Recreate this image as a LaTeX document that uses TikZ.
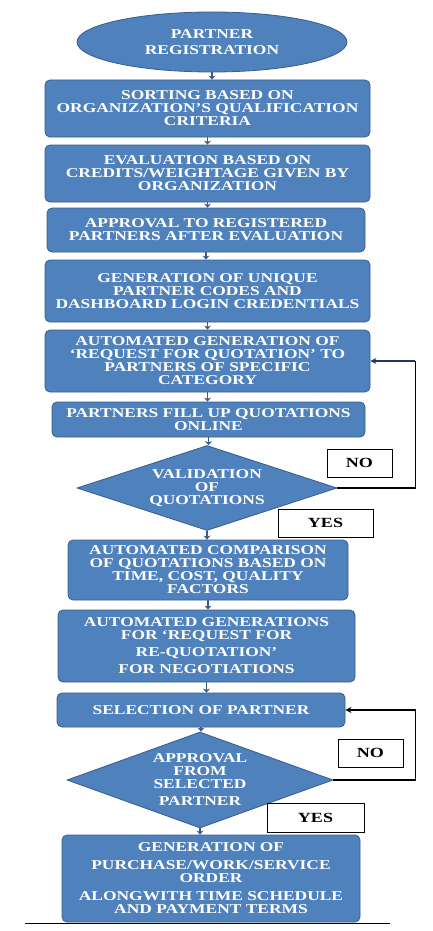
\documentclass[tikz,border=0pt]{standalone}
\usepackage{fontspec}
\setmainfont[FakeStretch=1.29]{Liberation Serif}
\usepackage{xcolor}
\definecolor{boxfill}{HTML}{4F81BD}
\definecolor{boxline}{HTML}{385D8A}
\definecolor{navy}{HTML}{1F3864}
\usetikzlibrary{arrows.meta, shapes.geometric}
\tikzset{
    proc/.style={
        rectangle, rounded corners=5pt, draw=boxline, thick,
        fill=boxfill, text=white, align=center,
        inner sep=0pt,
        font=\bfseries\fontsize{13.5}{13}\selectfont
    },
    term/.style={
        proc, ellipse
    },
    dec/.style={
        proc, diamond, rounded corners=0pt
    },
    ans/.style={
        rectangle, draw, thick, fill=white,
        inner sep=0pt,
        font=\bfseries\fontsize{14}{14}\selectfont
    },
    conn/.style={
        line width=1.4pt, draw=boxline,
        -{Stealth[length=4pt, width=7pt]},
    },
    back/.style={
        line width=1.6pt,
        -{Stealth[length=6pt, width=6pt]},
    },
}
\begin{document}
\begin{tikzpicture}[x=1pt, y=-1pt]
    \useasboundingbox (0,0) rectangle (433,931);

    \node[term, minimum width=270, minimum height=60] (reg) at (212,42)
        {PARTNER\\[3pt]REGISTRATION};
    \node[proc, minimum width=325, minimum height=57] (sort) at (207.5,108.5)
        {SORTING BASED ON\\ORGANIZATION’S QUALIFICATION\\CRITERIA};
    \node[proc, minimum width=325, minimum height=57] (eval) at (207.5,173.5)
        {EVALUATION BASED ON\\CREDITS/WEIGHTAGE GIVEN BY\\ORGANIZATION};
    \node[proc, minimum width=318, minimum height=44] (appr) at (206,230)
        {APPROVAL TO REGISTERED\\PARTNERS AFTER EVALUATION};
    \node[proc, minimum width=325, minimum height=62] (code) at (207.5,291)
        {GENERATION OF UNIQUE\\PARTNER CODES AND\\DASHBOARD LOGIN CREDENTIALS};
    \node[proc, minimum width=325, minimum height=62] (rfq) at (207.5,361)
        {AUTOMATED GENERATION OF\\‘REQUEST FOR QUOTATION’ TO\\PARTNERS OF SPECIFIC\\CATEGORY};
    \node[proc, minimum width=313, minimum height=35] (fill) at (208.5,419.5)
        {PARTNERS FILL UP QUOTATIONS\\ONLINE};
    \node[dec, aspect=3.06, minimum width=260, minimum height=85] (val) at (207,488)
        {VALIDATION\\OF\\QUOTATIONS};
    \node[proc, minimum width=280, minimum height=60] (comp) at (208,570)
        {AUTOMATED COMPARISON\\OF QUOTATIONS BASED ON\\TIME, COST, QUALITY\\FACTORS};
    \node[proc, minimum width=297, minimum height=72] (req) at (206.5,646)
        {AUTOMATED GENERATIONS\\FOR ‘REQUEST FOR\\[4pt]RE-QUOTATION’\\[4pt]FOR NEGOTIATIONS};
    \node[proc, minimum width=288, minimum height=34] (sel) at (201,710)
        {SELECTION OF PARTNER};
    \node[dec, aspect=2.77, minimum width=266, minimum height=96] (ok) at (200,780)
        {APPROVAL\\FROM\\SELECTED\\[4pt]PARTNER};
    \node[proc, minimum width=298, minimum height=87] (order) at (211,878.5)
        {GENERATION OF\\[5pt]PURCHASE/WORK/SERVICE\\ORDER\\[5pt]ALONGWITH TIME SCHEDULE\\AND PAYMENT TERMS};

    \foreach \i/\j in {reg/sort, sort/eval, eval/appr, appr/code, code/rfq,
                    rfq/fill, fill/val, val/comp, comp/req, req/sel,
                    sel/ok, ok/order}
                        \draw[conn] (\i.south) -- (\i.south |- \j.north);

    % loop back when the answer is no
    \draw[line width=1.6pt] (val.east) -- ++(78,0) coordinate (aux) -- (aux |- rfq.east);
    \draw[back, navy] (aux |- rfq.east) -- (rfq.east);
    \draw[back] (ok.east) -- ++(82,0) |- (sel.east);

    \node[ans, minimum width=65, minimum height=28] (no1) at (359.5,463) {NO};
    \node[ans, minimum width=95, minimum height=28] (yes1) at (325.5,523) {YES};
    \node[ans, minimum width=65, minimum height=28] (no2) at (370.5,753) {NO};
    \node[ans, minimum width=97, minimum height=29] (yes2) at (315.5,817.5) {YES};

    \draw[thick] (25,923) -- (390,923);
\end{tikzpicture}
\end{document}
